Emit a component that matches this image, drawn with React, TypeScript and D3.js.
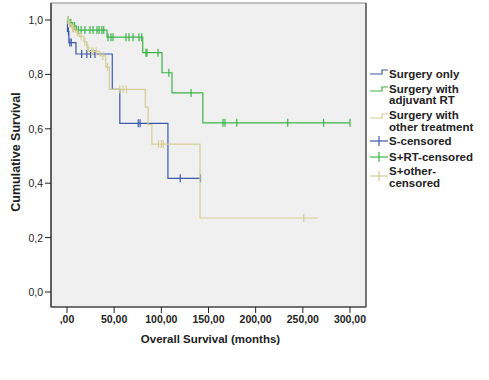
import React from "react";
import * as d3 from "d3";

// ---- Data ----
const xTicks = [0, 50, 100, 150, 200, 250, 300];
const yTicks = [0, 0.2, 0.4, 0.6, 0.8, 1.0];

// Surgery only: step events [time, survival]
const surgeryOnlySteps: [number, number][] = [
  [0, 1], [0.5, 0.958], [2, 0.917], [9.5, 0.875], [48, 0.745], [56, 0.62], [107, 0.418], [141.5, 0.418],
];
const surgeryOnlyCensored: [number, number][] = [
  [1.5, 0.958], [3, 0.917], [4.5, 0.917], [15.5, 0.875], [21, 0.875], [25, 0.875], [29.6, 0.875],
  [75.5, 0.62], [77.5, 0.62], [120, 0.418], [141.5, 0.418],
];

// Surgery with adjuvant RT
const surgeryRTSteps: [number, number][] = [
  [0, 1], [3, 0.99], [6, 0.978], [10, 0.963], [42.4, 0.937], [80.3, 0.88], [100.7, 0.806],
  [111.3, 0.732], [144, 0.622], [300, 0.622],
];
const surgeryRTCensored: [number, number][] = [
  [1, 1], [4, 0.99], [8, 0.978], [12, 0.963], [15, 0.963], [19, 0.963], [24.4, 0.963], [27.6, 0.963],
  [31.8, 0.963], [34, 0.963], [37, 0.963], [39, 0.963],
  [43.5, 0.937], [46.6, 0.937], [48.8, 0.937], [62.5, 0.937], [65.7, 0.937], [70, 0.937], [76.3, 0.937], [79.2, 0.937],
  [83.7, 0.88], [84.8, 0.88], [96.5, 0.88], [108, 0.806], [131.5, 0.732],
  [165.4, 0.622], [167.5, 0.622], [180, 0.622], [234, 0.622], [272, 0.622], [300, 0.622],
];

// Surgery with other treatment
const surgeryOtherSteps: [number, number][] = [
  [0, 1], [2, 0.985], [5, 0.97], [9, 0.955], [13, 0.94], [18, 0.92], [21, 0.9], [23, 0.885],
  [35, 0.868], [41, 0.827], [45, 0.745], [83, 0.68], [86, 0.615], [90, 0.544], [141, 0.272], [266, 0.272],
];
const surgeryOtherCensored: [number, number][] = [
  [1, 1], [3, 0.985], [6, 0.97], [7, 0.97], [11, 0.955], [15, 0.94], [19, 0.92], [22, 0.9],
  [26, 0.885], [28, 0.885], [31, 0.885], [38, 0.868], [43, 0.827], [56, 0.745], [59.5, 0.745],
  [63, 0.745], [97, 0.544], [100, 0.544], [102, 0.544], [251, 0.272],
];

const legendLabels: string[][] = [
  ["Surgery only"],
  ["Surgery with", "adjuvant RT"],
  ["Surgery with", "other treatment"],
  ["S-censored"],
  ["S+RT-censored"],
  ["S+other-", "censored"],
];

const BLUE = "#3e58ac";
const GREEN = "#3cb449";
const TAN = "#d3ce97";

const FONT = "'Liberation Sans', Arial, sans-serif";

export default function App() {
  const W = 489, H = 380;
  const frame = { left: 51, right: 366, top: 3, bottom: 307 };
  const x = d3.scaleLinear().domain([0, 300]).range([67, 350]);
  const y = d3.scaleLinear().domain([0, 1]).range([292, 20]);
  const line = d3
    .line<[number, number]>()
    .x((d) => x(d[0]))
    .y((d) => y(d[1]))
    .curve(d3.curveStepAfter);

  const series = [
    { steps: surgeryOnlySteps, cens: surgeryOnlyCensored, color: BLUE },
    { steps: surgeryRTSteps, cens: surgeryRTCensored, color: GREEN },
    { steps: surgeryOtherSteps, cens: surgeryOtherCensored, color: TAN },
  ];

  const fmt = (v: number) => {
    const s = v.toFixed(2).replace(".", ",");
    return s.startsWith("0,") ? s.slice(1) : s;
  };

  // legend layout
  const legendX = 389;
  const legendRows = [
    { lines: [74], sym: "step", color: BLUE, symY: 72 },
    { lines: [89, 100], sym: "step", color: GREEN, symY: 89 },
    { lines: [115, 127], sym: "step", color: TAN, symY: 116 },
    { lines: [141], sym: "cross", color: BLUE, symY: 141 },
    { lines: [157], sym: "cross", color: GREEN, symY: 157 },
    { lines: [171, 183], sym: "cross", color: TAN, symY: 176 },
  ];

  return (
    <svg width={W} height={H} style={{ display: "block", position: "absolute", left: 0, top: 0 }} fontFamily={FONT}>
      <rect x={0} y={0} width={W} height={H} fill="#ffffff" />
      <rect
        x={frame.left}
        y={frame.top}
        width={frame.right - frame.left}
        height={frame.bottom - frame.top}
        fill="#f0f0f0"
        stroke="#8a8a8a"
        strokeWidth={1}
      />
      {/* axes lines */}
      <line x1={frame.left} x2={frame.left} y1={frame.top} y2={frame.bottom} stroke="#222" strokeWidth={1.2} />
      <line x1={frame.left} x2={frame.right} y1={frame.bottom} y2={frame.bottom} stroke="#222" strokeWidth={1.2} />
      <line x1={frame.right} x2={frame.right} y1={frame.top} y2={frame.bottom} stroke="#444" strokeWidth={1.2} />

      {/* y ticks */}
      {yTicks.map((t) => (
        <g key={"y" + t}>
          <line x1={frame.left - 6} x2={frame.left} y1={y(t)} y2={y(t)} stroke="#222" />
          <text x={frame.left - 8} y={y(t) + 4} textAnchor="end" fontSize={10.5} fill="#222">
            {t.toFixed(1).replace(".", ",")}
          </text>
        </g>
      ))}
      {/* x ticks */}
      {xTicks.map((t) => (
        <g key={"x" + t}>
          <line x1={x(t)} x2={x(t)} y1={frame.bottom} y2={frame.bottom + 6} stroke="#222" />
          <text x={x(t)} y={323} textAnchor="middle" fontSize={10.5} fontWeight="bold" fill="#222">
            {fmt(t)}
          </text>
        </g>
      ))}

      <text x={(frame.left + frame.right) / 2 + 2} y={343} textAnchor="middle" fontSize={11.5} fontWeight="bold" fill="#222">
        Overall Survival (months)
      </text>
      <text
        transform={`translate(20,152) rotate(-90)`}
        textAnchor="middle"
        fontSize={12.5}
        fontWeight="bold"
        fill="#222"
      >
        Cumulative Survival
      </text>

      {/* curves */}
      {series.map((s, i) => (
        <g key={"s" + i}>
          <path d={line(s.steps) || ""} fill="none" stroke={s.color} strokeWidth={1.2} />
          {s.cens.map((c, j) => (
            <line
              key={j}
              x1={x(c[0])}
              x2={x(c[0])}
              y1={y(c[1]) - 4}
              y2={y(c[1]) + 4}
              stroke={s.color}
              strokeWidth={1.2}
            />
          ))}
        </g>
      ))}

      {/* legend */}
      {legendRows.map((r, i) => (
        <g key={"l" + i}>
          {r.sym === "step" ? (
            <path
              d={`M370,${r.symY + 2}H382V${r.symY - 2}H388`}
              fill="none"
              stroke={r.color}
              strokeWidth={1.2}
            />
          ) : (
            <g>
              <line x1={370} x2={388} y1={r.symY} y2={r.symY} stroke={r.color} strokeWidth={1.2} />
              <line x1={379} x2={379} y1={r.symY - 5} y2={r.symY + 5} stroke={r.color} strokeWidth={1.2} />
            </g>
          )}
          {legendLabels[i].map((txt, k) => (
            <text key={k} x={legendX} y={r.lines[k] + 4} fontSize={11.5} fontWeight="bold" fill="#222">
              {txt}
            </text>
          ))}
        </g>
      ))}
    </svg>
  );
}
